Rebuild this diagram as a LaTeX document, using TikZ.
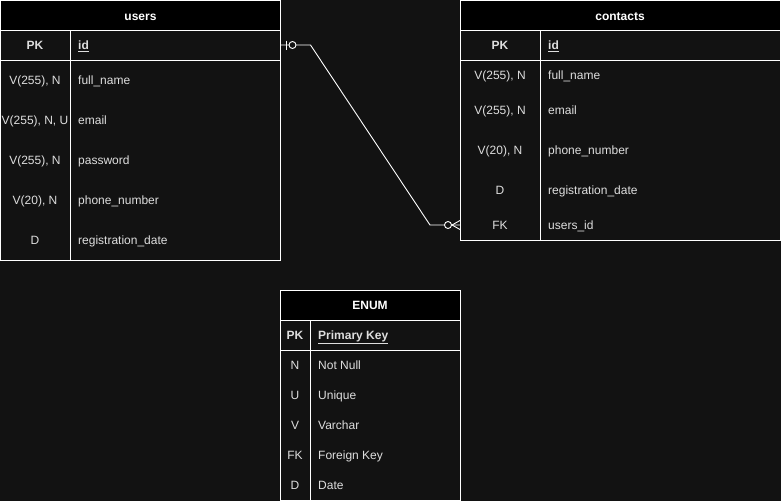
\documentclass[tikz,border=0pt]{standalone}
\usepackage{fontspec}
\setmainfont{Liberation Sans}
\usetikzlibrary{positioning}
\definecolor{canvas}{RGB}{18,18,18}
\definecolor{ink}{RGB}{222,222,222}

\begin{document}
\begin{tikzpicture}[
    x=1pt, y=-1pt,
    font=\fontsize{12}{14}\selectfont,
    tablebox/.style={rectangle, draw=white, line width=1pt, fill=canvas, inner sep=0pt,
                     outer sep=0pt, anchor=north west},
    header/.style={tablebox, fill=black, minimum height=30pt, text=white,
                   text height=11pt, text depth=2pt,
                   font=\fontsize{12}{14}\selectfont\bfseries},
    rule/.style={draw=white, line width=1pt},
    keycell/.style={text=ink, inner sep=0pt, text height=11pt, text depth=2pt},
    namecell/.style={keycell, anchor=west},
    pk/.style={font=\fontsize{12}{14}\selectfont\bfseries},
    link/.style={draw=white, line width=0.9pt},
]

% --- Background ---
\fill[canvas] (0,0) rectangle (781,501);

% --- users table ---
\node[tablebox, minimum width=280pt, minimum height=260pt] (users) at (0.5,0.5) {};
\node[header, minimum width=280pt] (users-head) at (0.5,0.5) {users};
\draw[rule] (0.5,60) -- (280,60);
\draw[rule] (70,30) -- (70,260);
\node[keycell, pk] (users-pk) at (35,45) {PK};
\node[namecell, pk] (users-id) at (78,45) {\underline{id}};
\foreach \k/\n/\y [count=\i] in {{V(255), N}/full\_name/80, {V(255), N, U}/email/120,
    {V(255), N}/password/160, {V(20), N}/phone\_number/200, D/registration\_date/240}{
  \node[keycell] (users-k\i) at (35,\y) {\k};
  \node[namecell] (users-n\i) at (78,\y) {\n};
}

% --- contacts table ---
\node[tablebox, minimum width=320pt, minimum height=240pt] (contacts) at (460,0.5) {};
\node[header, minimum width=320pt] (contacts-head) at (460,0.5) {contacts};
\draw[rule] (460,60) -- (780,60);
\draw[rule] (540,30) -- (540,240);
\node[keycell, pk] (contacts-pk) at (500,45) {PK};
\node[namecell, pk] (contacts-id) at (548,45) {\underline{id}};
\foreach \k/\n/\y [count=\i] in {{V(255), N}/full\_name/75, {V(255), N}/email/110,
    {V(20), N}/phone\_number/150, D/registration\_date/190}{
  \node[keycell] (contacts-k\i) at (500,\y) {\k};
  \node[namecell] (contacts-n\i) at (548,\y) {\n};
}
\node[keycell] (contacts-fk) at (500,225) {FK};
\node[namecell] (contacts-users) at (548,225) {users\_id};

% --- ENUM table ---
\node[tablebox, minimum width=180pt, minimum height=210pt] (enum) at (280,290) {};
\node[header, minimum width=180pt] (enum-head) at (280,290) {ENUM};
\draw[rule] (280,350) -- (460,350);
\draw[rule] (310,320) -- (310,500);
\node[keycell, pk] (enum-pk) at (295,335) {PK};
\node[namecell, pk] (enum-key) at (318,335) {\underline{Primary Key}};
\foreach \k/\n/\y [count=\i] in {N/Not Null/365, U/Unique/395, V/Varchar/425,
    FK/Foreign Key/455, D/Date/485}{
  \node[keycell] (enum-k\i) at (295,\y) {\k};
  \node[namecell] (enum-n\i) at (318,\y) {\n};
}

% --- Relation users 1 -- n contacts ---
\coordinate (one-end) at (users.east |- users-id);
\coordinate (many-end) at (contacts.west |- contacts-fk);
\draw[link] (one-end) -- ++(30,0) -- ([xshift=-30pt]many-end) -- (many-end);
% zero or one
\draw[link] ([xshift=5.5pt]one-end) ++(0,-4.5) -- ++(0,9);
\draw[link, fill=canvas] ([xshift=12pt]one-end) circle (3.5pt);
% zero or many
\draw[link] ([xshift=-8pt]many-end) -- ++(8,-4.5);
\draw[link] ([xshift=-8pt]many-end) -- ++(8,4.5);
\draw[link, fill=canvas] ([xshift=-12pt]many-end) circle (3.5pt);
\end{tikzpicture}
\end{document}
